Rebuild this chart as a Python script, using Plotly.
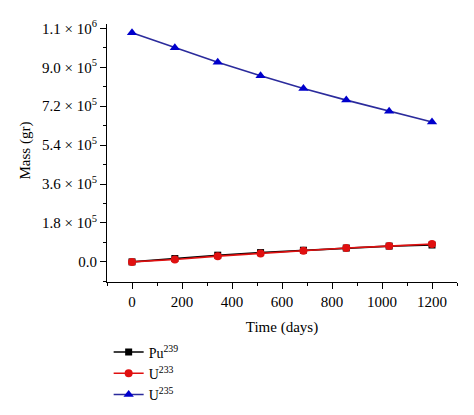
import plotly.graph_objects as go

time_days = [0, 171.4, 342.9, 514.3, 685.7, 857.1, 1028.6, 1200]
pu239 = [0, 15500, 31000, 43000, 54000, 64000, 73000, 78000]
u233 = [0, 11000, 26500, 39000, 51000, 64000, 73000, 83000]
u235 = [1060000, 990000, 923000, 861000, 802000, 748000, 697000, 647000]

y_tickvals = [0, 180000, 360000, 540000, 720000, 900000, 1080000]
y_ticktext = ["0.0", "1.8 × 10<sup>5</sup>", "3.6 × 10<sup>5</sup>", "5.4 × 10<sup>5</sup>",
              "7.2 × 10<sup>5</sup>", "9.0 × 10<sup>5</sup>", "1.1 × 10<sup>6</sup>"]

font_family = "Liberation Serif"

fig = go.Figure()
fig.add_trace(go.Scatter(x=time_days, y=pu239, mode="lines+markers", name="Pu<sup>239</sup>",
                         line=dict(color="black", width=1.6),
                         marker=dict(symbol="square", size=7, color="black")))
fig.add_trace(go.Scatter(x=time_days, y=u233, mode="lines+markers", name="U<sup>233</sup>",
                         line=dict(color="#e01010", width=1.6),
                         marker=dict(symbol="circle", size=8, color="#e01010")))
fig.add_trace(go.Scatter(x=time_days, y=u235, mode="lines+markers", name="U<sup>235</sup>",
                         line=dict(color="#2b2b9c", width=1.6),
                         marker=dict(symbol="triangle-up", size=9, color="#0000cc")))

fig.update_layout(
    width=466, height=407,
    margin=dict(l=99, r=17, t=16, b=133, autoexpand=False),
    plot_bgcolor="white", paper_bgcolor="white",
    font=dict(family=font_family, size=15, color="black"),
    showlegend=True,
    legend=dict(xref="container", yref="container", x=0.216, y=0.193,
                xanchor="left", yanchor="top",
                bgcolor="rgba(0,0,0,0)", font=dict(size=14), itemwidth=30,
                tracegroupgap=0),
    xaxis=dict(range=[-100, 1300], tickvals=[0, 200, 400, 600, 800, 1000, 1200],
               showline=True, linecolor="black", linewidth=1.2, automargin=True,
               ticks="outside", ticklen=6, tickwidth=1.2, tickcolor="black",
               minor=dict(ticks="outside", ticklen=3, tickwidth=1.2, tickcolor="black", dtick=100),
               showgrid=False, zeroline=False,
               title=dict(text="Time (days)", font=dict(size=15), standoff=12)),
    yaxis=dict(range=[-93000, 1100000], tickvals=y_tickvals, ticktext=y_ticktext,
               showline=True, linecolor="black", linewidth=1.2, automargin=False,
               ticks="outside", ticklen=6, tickwidth=1.2, tickcolor="black",
               minor=dict(ticks="outside", ticklen=3, tickwidth=1.2, tickcolor="black",
                          tickvals=[-90000, 90000, 270000, 450000, 630000, 810000, 990000]),
               showgrid=False, zeroline=False),
    annotations=[dict(text="Mass (gr)", xref="paper", yref="paper", x=-0.234, y=0.51,
                      textangle=-90, showarrow=False, xanchor="center", yanchor="middle",
                      font=dict(size=15))],
)

fig.write_html("out.html")
